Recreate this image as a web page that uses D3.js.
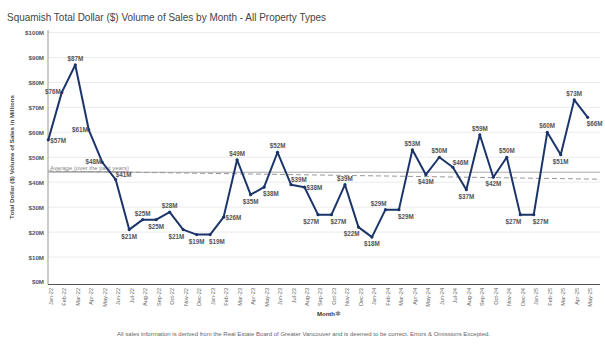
<!DOCTYPE html>
<html><head><meta charset="utf-8">
<script src="https://cdn.jsdelivr.net/npm/d3@7"></script>
<style>body{margin:0;background:#fff}svg{display:block;font-family:"Liberation Sans",Arial,sans-serif}</style>
</head><body><svg id="c" width="605" height="357"></svg>
<script>
const months = ["Jan-22","Feb-22","Mar-22","Apr-22","May-22","Jun-22","Jul-22","Aug-22","Sep-22","Oct-22","Nov-22","Dec-22",
"Jan-23","Feb-23","Mar-23","Apr-23","May-23","Jun-23","Jul-23","Aug-23","Sep-23","Oct-23","Nov-23","Dec-23",
"Jan-24","Feb-24","Mar-24","Apr-24","May-24","Jun-24","Jul-24","Aug-24","Sep-24","Oct-24","Nov-24","Dec-24",
"Jan-25","Feb-25","Mar-25","Apr-25","May-25"];
const volume = [57,76,87,61,48,41,21,25,25,28,21,19,
19,26,49,35,38,52,39,38,27,27,39,22,
18,29,29,53,43,50,46,37,59,42,50,27,
27,60,51,73,66];
// label placement codes: a=above, b=below, l=left, r=right, al/ar/bl/br = above/below shifted left/right
const labelSide = ["r","l","a","l","l","ar","b","a","b","a","bl","b",
"br","r","a","b","br","a","ar","r","bl","br","a","bl",
"b","al","br","a","b","a","ar","b","a","b","a","bl",
"br","a","b","a","br"];
const yTicks = [0,10,20,30,40,50,60,70,80,90,100];
const averageRef = 44;
const trendStart = 44.5, trendEnd = 41.2;

const svg = d3.select("#c");
const x = d3.scalePoint().domain(months).range([48.3, 587.7]);
const y = d3.scaleLinear().domain([0,100]).range([282, 32.5]);

// title
svg.append("text").attr("x",7).attr("y",21).attr("font-size",10.5).attr("fill","#444")
  .attr("textLength",319).attr("lengthAdjust","spacingAndGlyphs")
  .text("Squamish Total Dollar ($) Volume of Sales by Month - All Property Types");

// gridlines
svg.append("g").selectAll("line").data(yTicks.filter(d=>d>0)).join("line")
  .attr("x1",48).attr("x2",600).attr("y1",d=>y(d)).attr("y2",d=>y(d))
  .attr("stroke","#ebebeb").attr("stroke-width",1);

// y axis
const ya = svg.append("g").attr("transform","translate(48,0)")
  .call(d3.axisLeft(y).tickValues(yTicks).tickSize(0).tickPadding(4).tickFormat(d=>"$"+d+"M"));
ya.select(".domain").attr("stroke","#999").attr("d","M0,30V284.5");
ya.selectAll("text").attr("font-size",6.2).attr("font-weight","bold").attr("fill","#555").attr("font-family","Liberation Sans, Arial");

// x axis
const xa = svg.append("g").attr("transform","translate(0,284.5)")
  .call(d3.axisBottom(x).tickSize(0).tickPadding(0));
xa.select(".domain").attr("stroke","#555").attr("stroke-width",1.2).attr("d","M48,0H600");
xa.selectAll(".tick text").attr("font-size",5.6).attr("fill","#666").attr("font-family","Liberation Sans, Arial")
  .attr("text-anchor","end").attr("dy",null)
  .attr("transform","translate(2.5,3.5) rotate(-90)").attr("dominant-baseline","middle");

// y title
svg.append("text").attr("transform","translate(14,157) rotate(-90)").attr("text-anchor","middle")
  .attr("font-size",6.2).attr("font-weight","bold").attr("fill","#444")
  .text("Total Dollar ($) Volume of Sales in Millions");

// x title
svg.append("text").attr("x",317).attr("y",315.5).attr("font-size",6).attr("font-weight","bold").attr("fill","#333").text("Month");
svg.append("text").attr("x",335).attr("y",316).attr("font-size",7).attr("fill","#888").text("✱");

// footer
svg.append("text").attr("x",117).attr("y",336).attr("font-size",6.2).attr("fill","#666")
  .attr("textLength",373).attr("lengthAdjust","spacingAndGlyphs")
  .text("All sales information is derived from the Real Estate Board of Greater Vancouver and is deemed to be correct. Errors & Omissions Excepted.");

// average reference line
svg.append("line").attr("x1",48).attr("x2",600).attr("y1",y(averageRef)).attr("y2",y(averageRef))
  .attr("stroke","#aaa").attr("stroke-width",1);
svg.append("text").attr("x",50).attr("y",y(averageRef)-2).attr("font-size",6).attr("fill","#888")
  .attr("text-decoration","underline").text("Average (over the past years)");
// trend line
svg.append("line").attr("x1",48).attr("x2",600).attr("y1",y(trendStart)).attr("y2",y(trendEnd))
  .attr("stroke","#999").attr("stroke-width",1).attr("stroke-dasharray","5,3");

// main line
const line = d3.line().x((d,i)=>x(months[i])).y(d=>y(d));
svg.append("path").datum(volume).attr("d",line).attr("fill","none")
  .attr("stroke","#1b356b").attr("stroke-width",2).attr("stroke-linejoin","round");
svg.append("g").selectAll("circle").data(volume).join("circle")
  .attr("cx",(d,i)=>x(months[i])).attr("cy",d=>y(d)).attr("r",1.6).attr("fill","#1b356b");

// labels
const place = {
  a:  {dx:0,  dy:-4, anchor:"middle"},
  b:  {dx:0,  dy:9,  anchor:"middle"},
  l:  {dx:-1, dy:2,  anchor:"end"},
  r:  {dx:2,  dy:3,  anchor:"start"},
  al: {dx:1,  dy:-4, anchor:"end"},
  ar: {dx:0,  dy:-2.5, anchor:"start"},
  bl: {dx:1,  dy:9,  anchor:"end"},
  br: {dx:-1, dy:9,  anchor:"start"}
};
svg.append("g").selectAll("text").data(volume).join("text")
  .attr("font-size",6.3).attr("font-weight","bold").attr("fill","#555")
  .attr("x",(d,i)=>x(months[i])+place[labelSide[i]].dx)
  .attr("y",(d,i)=>y(d)+place[labelSide[i]].dy)
  .attr("text-anchor",(d,i)=>place[labelSide[i]].anchor)
  .text(d=>"$"+d+"M");
</script></body></html>
